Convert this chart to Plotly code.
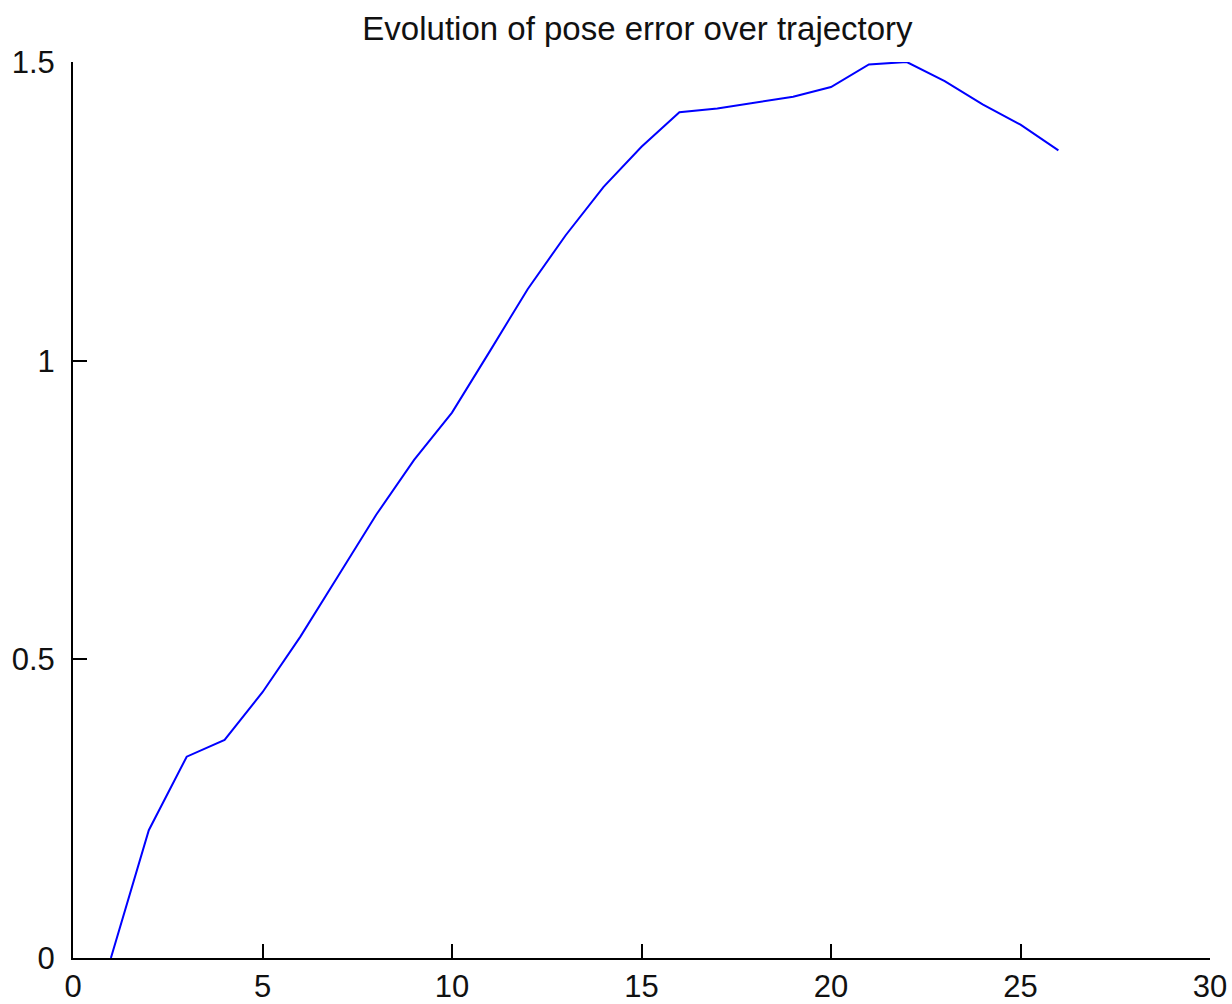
import plotly.graph_objects as go

# Data
x_vals = list(range(1, 27))
pose_error = [0.0, 0.214, 0.337, 0.365, 0.445, 0.538, 0.640, 0.742, 0.834, 0.913,
              1.016, 1.120, 1.210, 1.291, 1.358, 1.416, 1.422, 1.432, 1.442, 1.458,
              1.496, 1.500, 1.468, 1.429, 1.395, 1.352]
x_ticks = [0, 5, 10, 15, 20, 25, 30]
y_ticks = [0, 0.5, 1, 1.5]
y_tick_labels = ["0", "0.5", "1", "1.5"]
title_text = "Evolution of pose error over trajectory"

FONT = "Liberation Sans Narrow, Arial Narrow, Liberation Sans, Arial, sans-serif"

fig = go.Figure()
fig.add_trace(go.Scatter(x=x_vals, y=pose_error, mode="lines",
                         line=dict(color="#0000ff", width=2), showlegend=False,
                         hoverinfo="x+y"))

fig.update_layout(
    width=1232, height=1004,
    margin=dict(l=73, r=22, t=62, b=46, autoexpand=False),
    paper_bgcolor="white", plot_bgcolor="white",
    title=dict(text=title_text, x=(358 + 917) / 2 / 1232, xanchor="center",
               y=1 - 28 / 1004, yanchor="middle", yref="container",
               font=dict(family=FONT, size=33, color="#111111")),
    font=dict(family=FONT, color="#111111"),
)
fig.update_xaxes(range=[0, 30], tickvals=x_ticks, ticks="inside", ticklen=14,
                 tickwidth=2, tickcolor="black", showline=True, linecolor="black",
                 linewidth=2, showgrid=False, zeroline=False, mirror=False,
                 automargin=False,
                 tickfont=dict(family=FONT, size=31, color="#111111"))
fig.update_yaxes(range=[0, 1.5], tickvals=y_ticks, ticktext=y_tick_labels,
                 ticks="inside", ticklen=14, tickwidth=2, tickcolor="black",
                 showline=True, linecolor="black", linewidth=2, showgrid=False,
                 zeroline=False, mirror=False, automargin=False,
                 ticklabelstandoff=10,
                 tickfont=dict(family=FONT, size=31, color="#111111"))

fig.write_html("out.html")
